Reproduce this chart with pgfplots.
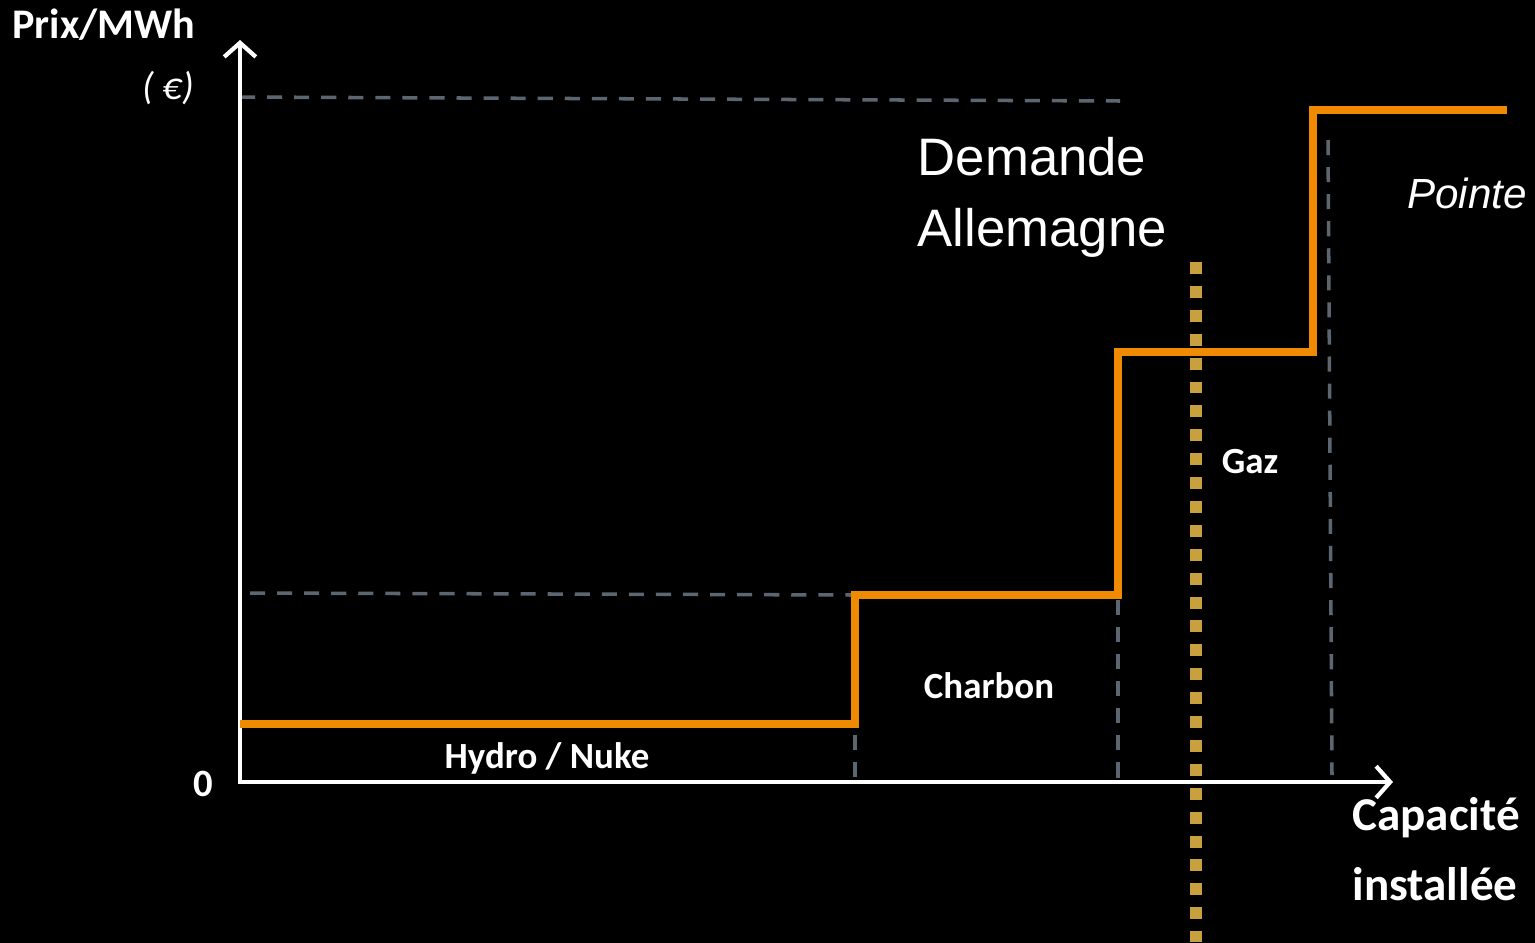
\documentclass[border=0pt]{standalone}
\usepackage{fontspec}
\setmainfont{Carlito}
\newfontfamily\arial{Liberation Sans}
\usepackage{pgfplots}
\pgfplotsset{compat=1.18}
\usetikzlibrary{arrows.meta}
\definecolor{steporange}{RGB}{240,138,0}
\definecolor{guide}{RGB}{92,102,112}
\definecolor{demand}{RGB}{201,160,62}
\begin{document}
\begin{tikzpicture}
\begin{axis}[scale only axis, width=15.35cm, height=9.42cm,
  xmin=-238, xmax=1297, ymin=-160, ymax=782, hide axis, clip=false]
\fill[black] (rel axis cs:-0.01,-0.01) rectangle (rel axis cs:1.01,1.01);
% guides
\addplot[guide, line width=1pt, dash pattern=on 4.3pt off 3.4pt] coordinates {(2,685) (882,681)};
\addplot[guide, line width=1pt, dash pattern=on 4.3pt off 3.4pt] coordinates {(12,189) (617,187)};
\addplot[guide, line width=1pt, dash pattern=on 4.3pt off 3.4pt] coordinates {(617,47) (617,2)};
\addplot[guide, line width=1pt, dash pattern=on 4.3pt off 3.4pt] coordinates {(880,182) (880,2)};
\addplot[guide, line width=1pt, dash pattern=on 4.3pt off 3.4pt] coordinates {(1090,642) (1094,7)};
% axes
\addplot[white, line width=1.2pt, -{Straight Barb[length=4pt,width=9pt]}] coordinates {(2,0) (2,742)};
\addplot[white, line width=1.2pt, -{Straight Barb[length=4pt,width=9pt]}] coordinates {(0,0) (1155,0)};
% demand line
\addplot[demand, line width=3.4pt, dash pattern=on 3.4pt off 3.4pt] coordinates {(958,520) (958,-160)};
% merit order
\addplot[steporange, line width=2.3pt, line join=miter] coordinates {
  (2,58) (617,58) (617,187) (880,187) (880,430) (1075,430) (1075,672) (1269,672)};
% labels
\node[white, font=\fontsize{12}{14}\selectfont\bfseries] at (axis cs:-134,757) {Prix/MWh};
\node[white, font=\fontsize{11}{13}\selectfont\itshape] at (axis cs:-70,694) {( €)};
\node[white, font=\fontsize{11}{13}\selectfont\bfseries] at (axis cs:-35,-2) {0};
\node[white, anchor=west, inner sep=0pt, font=\fontsize{15}{17}\selectfont\arial] at (axis cs:679,625) {Demande};
\node[white, anchor=west, inner sep=0pt, font=\fontsize{15}{17}\selectfont\arial] at (axis cs:679,549) {Allemagne};
\node[white, font=\fontsize{12}{14}\selectfont\arial\itshape] at (axis cs:1229,589) {Pointe};
\node[white, font=\fontsize{10.5}{12}\selectfont\bfseries] at (axis cs:1012,320) {Gaz};
\node[white, font=\fontsize{10.5}{12}\selectfont\bfseries] at (axis cs:751,96) {Charbon};
\node[white, font=\fontsize{10.5}{12}\selectfont\bfseries] at (axis cs:309,24) {Hydro / Nuke};
\node[white, font=\fontsize{13.4}{15}\selectfont\bfseries] at (axis cs:1198,-36) {Capacité};
\node[white, font=\fontsize{13.4}{15}\selectfont\bfseries] at (axis cs:1197,-102) {installée};
\end{axis}
\pgfresetboundingbox
\path[use as bounding box] (current axis.south west) rectangle (current axis.north east);
\end{tikzpicture}
\end{document}
